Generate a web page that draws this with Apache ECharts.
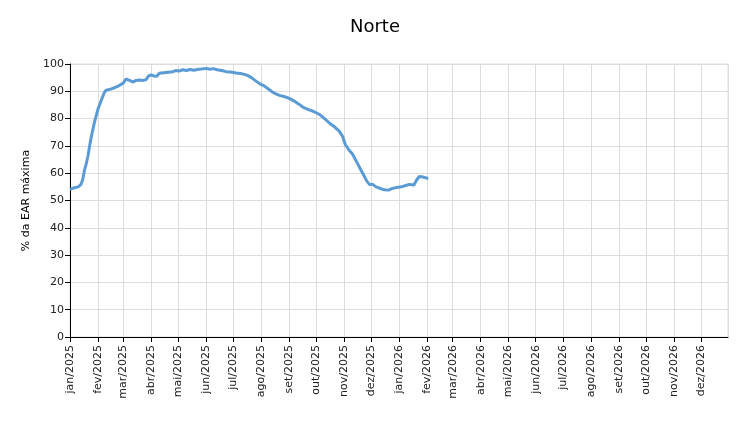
<!DOCTYPE html>
<html>
<head>
<meta charset="utf-8">
<script src="https://cdn.jsdelivr.net/npm/echarts@6/dist/echarts.min.js"></script>
<style>html,body{margin:0;padding:0;background:#fff}#c{width:750px;height:424px}</style>
</head>
<body>
<div id="c"></div>
<script>
var titleText = 'Norte';
var yAxisName = '% da EAR máxima';
var monthNames = ['jan','fev','mar','abr','mai','jun','jul','ago','set','out','nov','dez'];
var axisStart = '2025-01-01';
var axisEnd = '2026-12-31';
var dates = [
'2025-01-01','2025-01-05','2025-01-10','2025-01-13','2025-01-15','2025-01-17','2025-01-19','2025-01-21','2025-01-23','2025-01-25','2025-01-28',
'2025-02-01','2025-02-05','2025-02-08','2025-02-10','2025-02-15','2025-02-20','2025-02-24',
'2025-03-01','2025-03-04','2025-03-08','2025-03-12','2025-03-15','2025-03-19','2025-03-23','2025-03-26','2025-03-29',
'2025-04-01','2025-04-04','2025-04-07','2025-04-10','2025-04-15','2025-04-20','2025-04-25','2025-04-28',
'2025-05-02','2025-05-06','2025-05-10','2025-05-14','2025-05-18','2025-05-22','2025-05-27',
'2025-06-01','2025-06-05','2025-06-09','2025-06-13','2025-06-18','2025-06-23','2025-06-28',
'2025-07-04','2025-07-09','2025-07-13','2025-07-17','2025-07-21','2025-07-25','2025-07-30',
'2025-08-04','2025-08-08','2025-08-12','2025-08-16','2025-08-21','2025-08-26',
'2025-09-01','2025-09-06','2025-09-12','2025-09-17','2025-09-23','2025-09-28',
'2025-10-05','2025-10-10','2025-10-16','2025-10-21','2025-10-26','2025-10-30',
'2025-11-02','2025-11-06','2025-11-10','2025-11-14','2025-11-18','2025-11-22','2025-11-26','2025-11-29',
'2025-12-02','2025-12-06','2025-12-10','2025-12-15','2025-12-20','2025-12-24','2025-12-29',
'2026-01-03','2026-01-08','2026-01-12','2026-01-17','2026-01-20','2026-01-23','2026-01-27','2026-02-02'
];
var values = [
54.1,54.6,55.0,55.8,57.5,61.0,63.5,66.5,70.5,74.0,78.5,
83.5,87.0,89.5,90.4,90.8,91.4,92.0,
93.0,94.5,94.0,93.4,94.0,94.1,94.0,94.2,95.6,
96.0,95.6,95.5,96.6,96.8,97.0,97.2,97.6,
97.4,97.9,97.6,98.0,97.7,98.0,98.2,
98.4,98.1,98.3,97.9,97.6,97.2,97.1,
96.7,96.5,96.2,95.8,95.0,94.0,92.8,
92.0,91.0,90.0,89.2,88.5,88.1,
87.4,86.5,85.2,84.0,83.2,82.6,
81.4,80.0,78.2,77.0,75.5,73.5,
70.5,68.5,67.0,64.5,62.0,59.5,57.0,55.8,
56.0,55.0,54.5,53.9,53.8,54.4,54.8,
55.0,55.5,55.9,55.7,57.5,58.8,58.6,58.0
];
var yMin = 0, yMax = 100, yStep = 10;

var seriesData = dates.map(function(d, i){ return [d, values[i]]; });
var chart = echarts.init(document.getElementById('c'), null, {renderer:'canvas'});
var font = 'DejaVu Sans, Verdana, sans-serif';
chart.setOption({
  animation: false,
  backgroundColor: '#fff',
  title: { text: titleText, left: 'center', top: 13, textStyle: { fontFamily: font, fontSize: 18, fontWeight: 'normal', color: '#000' } },
  grid: { left: 70, right: 22, top: 64, bottom: 87, show: true, borderColor: '#ddd', borderWidth: 1 },
  xAxis: {
    type: 'time',
    min: axisStart, max: axisEnd,
    minInterval: 28*24*3600*1000, maxInterval: 31*24*3600*1000,
    axisLine: { lineStyle: { color: '#000', width: 1 } },
    axisTick: { show: true, length: 5, lineStyle: { color: '#000' } },
    splitLine: { show: true, lineStyle: { color: '#ddd', width: 1 } },
    axisLabel: {
      rotate: 90, fontFamily: font, fontSize: 11, color: '#222', margin: 8,
      hideOverlap: false,
      formatter: function(v){ var d = new Date(v); return monthNames[d.getMonth()] + '/' + d.getFullYear(); }
    }
  },
  yAxis: {
    type: 'value', min: yMin, max: yMax, interval: yStep,
    name: yAxisName, nameLocation: 'middle', nameGap: 35, nameRotate: 90,
    nameTextStyle: { fontFamily: font, fontSize: 11, color: '#000' },
    axisLine: { show: true, lineStyle: { color: '#000', width: 1 } },
    axisTick: { show: true, length: 5, lineStyle: { color: '#000' } },
    splitLine: { show: true, lineStyle: { color: '#ddd', width: 1 } },
    axisLabel: { fontFamily: font, fontSize: 11, color: '#222', margin: 6 }
  },
  series: [{
    type: 'line', data: seriesData, showSymbol: false, smooth: false,
    lineStyle: { color: '#5b9bd5', width: 3 }
  }]
});
</script>
</body>
</html>
